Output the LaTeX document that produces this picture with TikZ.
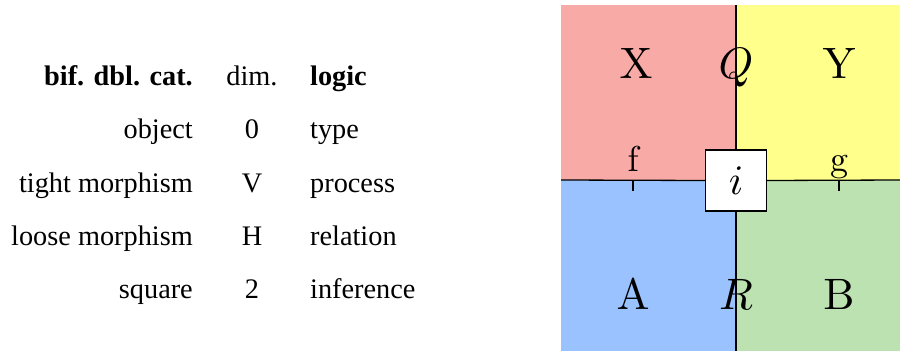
\documentclass[tikz,border=0pt]{standalone}
\usepackage{fontspec}
\newfontfamily\tablefont{Liberation Serif}
% scalable Computer Modern shapes for the large labels
\DeclareFontShape{OML}{cmm}{m}{it}{<->cmmi10}{}
\DeclareFontFamily{OT1}{cmrx}{}
\DeclareFontShape{OT1}{cmrx}{m}{n}{<->cmr10}{}
\newcommand{\cmlabel}{\fontencoding{OT1}\fontfamily{cmrx}\selectfont}
\begin{document}
\begin{tikzpicture}[x=1pt,y=-1pt,
  cell/.style={font=\tablefont\fontsize{28.3}{32}\selectfont, inner sep=0pt},
  lhs/.style={cell, anchor=base east},
  mid/.style={cell, anchor=base},
  rhs/.style={cell, anchor=base west},
  big/.style={font=\fontsize{44}{50}\selectfont\cmlabel, inner sep=0pt, anchor=base},
  small/.style={font=\fontsize{36}{40}\selectfont\cmlabel, inner sep=0pt, anchor=base},
  wire/.style={line width=1.3pt, black}]
\definecolor{cellred}{RGB}{248,171,166}
\definecolor{cellyellow}{RGB}{255,255,140}
\definecolor{cellblue}{RGB}{153,194,255}
\definecolor{cellgreen}{RGB}{187,226,176}
\useasboundingbox (0,0) rectangle (900,351);

% table
\node[lhs] (h1) at (193,85) {\bfseries bif. dbl. cat.};
\node[mid] (h2) at (252,85) {dim.};
\node[rhs] (h3) at (310,85) {\bfseries logic};
\node[lhs] (r1a) at (193,138) {object};
\node[mid] (r1b) at (252,138) {0};
\node[rhs] (r1c) at (310,138) {type};
\node[lhs] (r2a) at (193,192) {tight morphism};
\node[mid] (r2b) at (252,192) {V};
\node[rhs] (r2c) at (310,192) {process};
\node[lhs] (r3a) at (193,245) {loose morphism};
\node[mid] (r3b) at (252,245) {H};
\node[rhs] (r3c) at (310,245) {relation};
\node[lhs] (r4a) at (193,298) {square};
\node[mid] (r4b) at (252,298) {2};
\node[rhs] (r4c) at (310,298) {inference};

% regions
\fill[cellred] (561,5) rectangle (736,180);
\fill[cellyellow] (736,5) rectangle (900,180);
\fill[cellblue] (561,180) rectangle (736,351);
\fill[cellgreen] (736,180) rectangle (900,351);

\coordinate (top) at (736,5);
\coordinate (bot) at (736,351);
\coordinate (lft) at (561,180);
\coordinate (rgt) at (900,180);
\coordinate (fa) at (633,180);
\coordinate (fb) at (633,191);
\coordinate (ga) at (839,180);
\coordinate (gb) at (839,191);

\node[draw, wire, fill=white, minimum width=61pt, minimum height=61pt, inner sep=0pt,
  font=\fontsize{42}{46}\selectfont] (box) at (736,180.5) {$i$};

\draw[wire] (top) -- (box.north);
\draw[wire] (box.south) -- (bot);
\draw[wire] (lft) -- (box.west);
\draw[wire] (box.east) -- (rgt);
\draw[wire] (fa) -- (fb);
\draw[wire] (ga) -- (gb);

\node[big] (X) at (636,78) {X};
\node[big] (Q) at (736,78) {$Q$};
\node[big] (Y) at (839,78) {Y};
\node[small] (f) at (633,171) {f};
\node[small] (g) at (839,171) {g};
\node[big] (A) at (633,309) {A};
\node[big] (R) at (736,309) {$R$};
\node[big] (B) at (839,309) {B};
\end{tikzpicture}
\end{document}
